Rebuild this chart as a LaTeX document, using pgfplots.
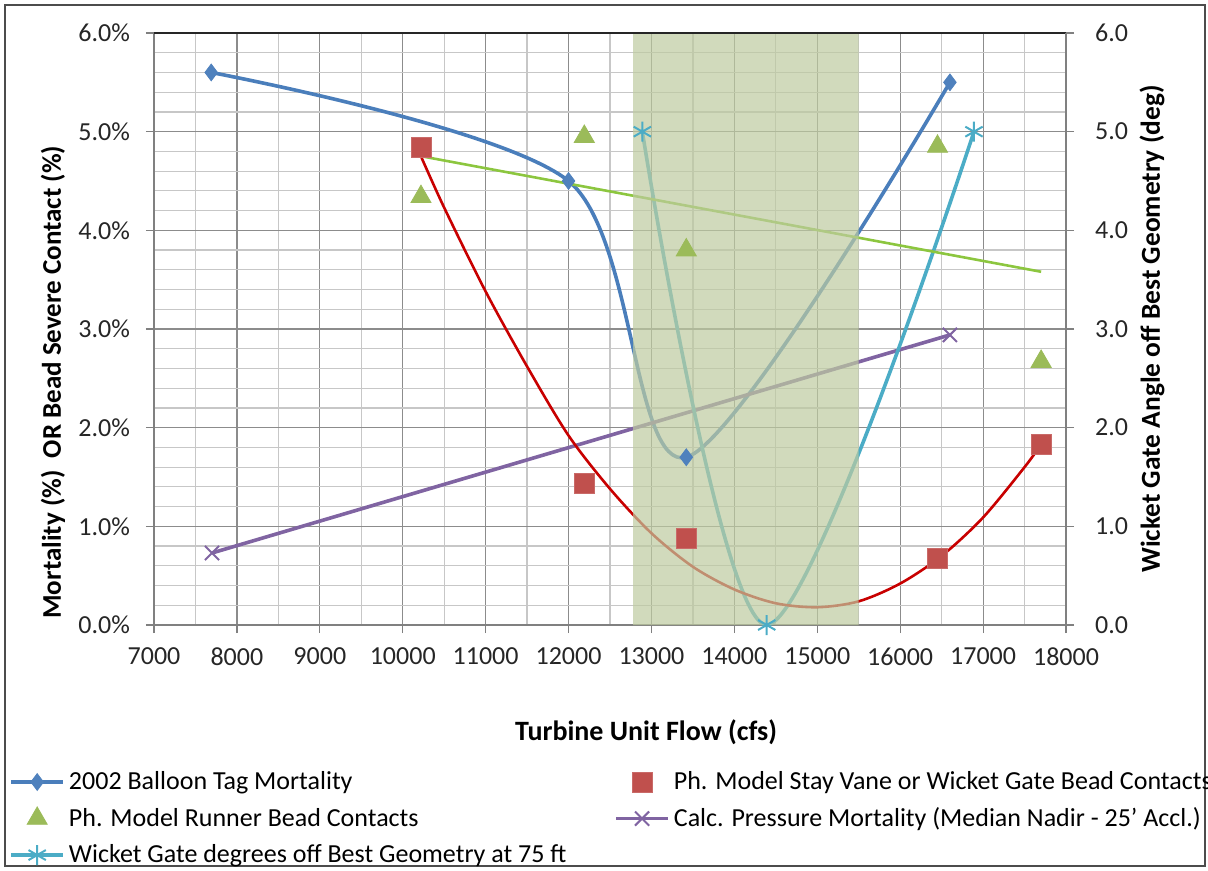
\documentclass[border=0pt]{standalone}
\usepackage{fontspec}
\setmainfont{Carlito}
\usepackage{pgfplots}
\pgfplotsset{compat=1.18}
\definecolor{cblue}{HTML}{4A7EBB}
\definecolor{cbluem}{HTML}{4F81BD}
\definecolor{cred}{HTML}{C0504D}
\definecolor{credt}{HTML}{C80000}
\definecolor{cgreen}{HTML}{9BBB59}
\definecolor{cgreent}{HTML}{8CC63F}
\definecolor{cpurple}{HTML}{8064A2}
\definecolor{ccyan}{HTML}{4BACC6}
\definecolor{shade}{RGB}{190,203,160}
\newcommand\cf{\fontsize{13}{15.6}\selectfont}
\newcommand\lf{\fontsize{14}{16.8}\selectfont}
\newcommand\yf{\fontsize{13.5}{16.2}\selectfont}
\newcommand\rf{\fontsize{13.7}{16.4}\selectfont}
\begin{document}
\begin{tikzpicture}
\useasboundingbox (-77pt,-123pt) rectangle (527pt,312.5pt);
\draw[black!70, line width=0.8pt] (-74.5pt,-120.5pt) rectangle (525.5pt,310pt);
\begin{axis}[
  scale only axis, width=456pt, height=296pt,
  at={(0,0)}, anchor=south west,
  xmin=7000, xmax=18000, ymin=0, ymax=6,
  scaled x ticks=false, scaled y ticks=false,
  xtick={7000,8000,...,18000},
  xticklabels={7000,8000,9000,10000,11000,12000,13000,14000,15000,16000,17000,18000},
  ytick={0,1,2,3,4,5,6},
  yticklabels={0.0\%,1.0\%,2.0\%,3.0\%,4.0\%,5.0\%,6.0\%},
  minor x tick num=1, minor y tick num=4,
  grid=both,
  major grid style={draw=black!45, line width=0.6pt},
  minor grid style={draw=black!22, line width=0.6pt},
  axis line style={draw=black!50, line width=0.6pt},
  tick align=outside, tick pos=left, major tick length=4pt, minor tick length=0pt,
  tick style={black!50, line width=0.6pt},
  ticklabel style={font=\cf, text=black!85},
  xticklabel style={yshift=-4pt},
  yticklabel style={xshift=-4.5pt},
  xlabel={Turbine Unit Flow (cfs)},
  ylabel={Mortality (\%)\ \ OR Bead Severe Contact (\%)},
  xlabel style={font=\lf\bfseries, at={(axis description cs:0.5395,-0.1807)}, anchor=center},
  ylabel style={font=\yf\bfseries, at={(axis description cs:-0.1107,0.41)}, anchor=center},
  legend columns=2,
  legend image code/.code={\draw[mark repeat=2,mark phase=2] plot coordinates {(0pt,0pt) (13pt,0pt) (26pt,0pt)};},
  legend style={at={(axis description cs:-0.159,-0.24)}, anchor=north west, draw=none, fill=none,
    font=\cf, inner sep=0pt, row sep=3.5pt, cells={anchor=west},
    /tikz/every even column/.append style={column sep=22pt}},
]
\addplot[cblue, line width=1.8pt, smooth, tension=0.5, mark=diamond*, mark size=4.2pt,
  mark options={fill=cbluem, draw=cbluem, line width=0.4pt}]
  coordinates {(7690,5.60) (12000,4.50) (13420,1.70) (16600,5.50)};
\addlegendentry{2002 Balloon Tag Mortality}
\addplot[only marks, mark=square*, mark size=5pt, color=cred, mark options={fill=cred, draw=cred!85!white}]
  coordinates {(10230,4.84) (12190,1.44) (13420,0.88) (16450,0.68) (17700,1.83)};
\addlegendentry{Ph. Model Stay Vane or Wicket Gate Bead Contacts}
\addplot[only marks, mark=triangle*, mark size=5.8pt, color=cgreen, mark options={fill=cgreen, draw=cgreen}]
  coordinates {(10220,4.34) (12190,4.95) (13420,3.80) (16450,4.85) (17700,2.67)};
\addlegendentry{Ph. Model Runner Bead Contacts}
\addplot[cpurple, line width=1.8pt, mark=x, mark size=5pt, mark options={line width=1pt}]
  coordinates {(7700,0.73) (16600,2.94)};
\addlegendentry{Calc. Pressure Mortality (Median Nadir - 25' Accl.)}
\addplot[ccyan, line width=1.8pt, smooth, tension=0.5, mark=asterisk, mark size=5pt, mark options={line width=1pt}]
  coordinates {(12890,5.0) (14390,0.0) (16890,5.0)};
\addlegendentry{Wicket Gate degrees off Best Geometry at 75 ft}
% trendlines
\addplot[forget plot, credt, line width=1.3pt, smooth, tension=0.5]
  coordinates {(10220,4.75) (10500,4.23) (11000,3.38) (11500,2.62) (12000,1.92) (12500,1.38)
   (13000,0.93) (13500,0.59) (14000,0.36) (14500,0.22) (15000,0.18) (15500,0.24) (16000,0.42)
   (16500,0.70) (17000,1.09) (17500,1.60) (17700,1.83)};
\addplot[forget plot, cgreent, line width=1.3pt]
  coordinates {(10230,4.75) (17700,3.58)};
% shaded band
\addplot[forget plot, draw=none, fill=shade, fill opacity=0.7]
  coordinates {(12780,0) (12780,6) (15500,6) (15500,0)} \closedcycle;
\draw[black!85, line width=0.8pt] (rel axis cs:0,1) -- (rel axis cs:1,1);
\end{axis}
\begin{axis}[
  scale only axis, width=456pt, height=296pt,
  at={(0,0)}, anchor=south west,
  xmin=7000, xmax=18000, ymin=0, ymax=6,
  axis x line=none, axis y line*=right,
  ytick={0,1,2,3,4,5,6},
  yticklabels={0.0,1.0,2.0,3.0,4.0,5.0,6.0},
  axis line style={draw=black!50, line width=0.6pt},
  tick align=outside, major tick length=4pt,
  tick style={black!50, line width=0.6pt},
  ticklabel style={font=\cf, text=black!85},
  yticklabel style={xshift=7pt},
  ylabel={Wicket Gate Angle off Best Geometry (deg)},
  ylabel style={font=\rf\bfseries, at={(axis description cs:1.0943,0.5)}, anchor=center},
]
\end{axis}
\end{tikzpicture}
\end{document}
